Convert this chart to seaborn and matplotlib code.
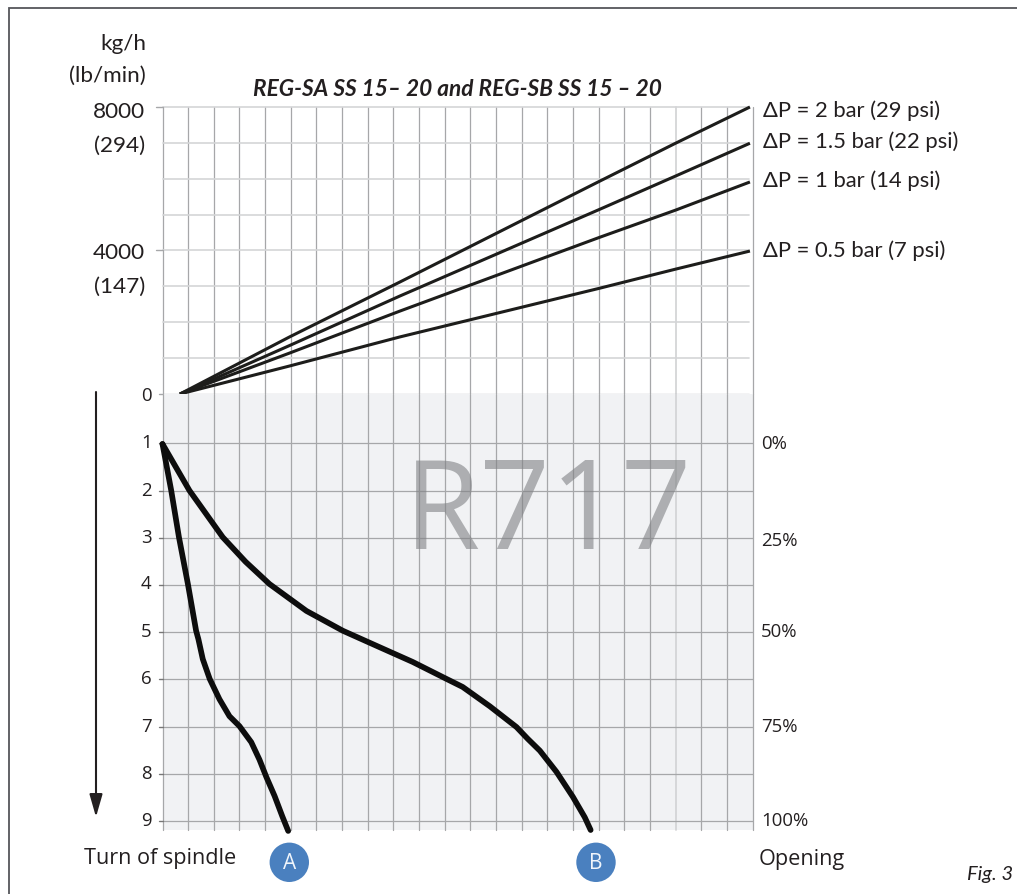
import numpy as np
import pandas as pd
import matplotlib
matplotlib.use("Agg")
import matplotlib.pyplot as plt
import seaborn as sns
from matplotlib.patches import Circle

sns.set_theme(style="white")
plt.rcParams['font.family'] = ['Open Sans', 'DejaVu Sans']

W, H = 1017, 895
X0, X1 = 162.5, 752.5
UP_T, UP_B = 108, 395
LO_B = 831

grid_max = 23
light_grid = 20
flow_x = [0.68, 4.95, 9.25, 17.05, 20.0, 22.9]
flow_2 = [0, 1590, 3120, 5935, 6990, 8000]
flow_15 = [0, 1350, 2730, 5150, 6075, 6990]
flow_1 = [0, 1140, 2310, 4370, 5125, 5910]
flow_05 = [0, 780, 1590, 2950, 3480, 3985]
flow_labels = ["\u0394P = 2 bar (29 psi)", "\u0394P = 1.5 bar (22 psi)", "\u0394P = 1 bar (14 psi)", "\u0394P = 0.5 bar (7 psi)"]
flow_label_base = [117, 148, 187, 257]

curve_a_x = [0, 0.34, 0.64, 0.99, 1.31, 1.40, 1.57, 1.84, 2.22, 2.61, 3.00, 3.46, 3.78, 4.05, 4.37, 4.67, 4.90]
curve_a_y = [1.015, 2.00, 2.985, 3.98, 4.97, 5.15, 5.57, 5.99, 6.42, 6.78, 6.99, 7.33, 7.70, 8.07, 8.47, 8.90, 9.21]
curve_b_x = [0, 1.05, 2.35, 3.24, 4.17, 5.61, 7.03, 8.47, 9.75, 11.07, 11.70, 12.76, 13.80, 14.24, 14.71, 15.36, 16.00, 16.46, 16.69]
curve_b_y = [1.015, 2.00, 2.99, 3.51, 3.98, 4.55, 4.97, 5.32, 5.63, 5.99, 6.16, 6.57, 7.01, 7.26, 7.51, 7.96, 8.49, 8.92, 9.19]

upper_ticks = [0, 1000, 2000, 3000, 4000, 5000, 6000, 7000, 8000]
turns = [1, 2, 3, 4, 5, 6, 7, 8, 9]
turn_labels = ['0', '1', '2', '3', '4', '5', '6', '7', '8', '9']
turn_base = [401, 448, 496, 543, 589, 637, 684, 732, 779, 826]
opening_labels = ["0%", "25%", "50%", "75%", "100%"]
opening_base = [449, 546, 637, 732, 826]

fig = plt.figure(figsize=(W / 100, H / 100), dpi=100)

def axes_px(x0, y0, x1, y1):
    return fig.add_axes([x0 / W, 1 - y1 / H, (x1 - x0) / W, (y1 - y0) / H])

ax_up = axes_px(X0, UP_T, X1, UP_B)
ax_lo = axes_px(X0, UP_B, X1, LO_B)
ax_up.set_xlim(0, grid_max); ax_up.set_ylim(0, 8000)
ax_lo.set_xlim(0, grid_max); ax_lo.set_ylim(9.19, -0.044)
ax_lo.set_facecolor('#f1f2f4')

GRID = '#a6a7a9'
LIGHT = '#d4d5d7'
for ax in (ax_up, ax_lo):
    for s in ax.spines.values():
        s.set_visible(False)
    ax.set_xticks([]); ax.set_yticks([])
    for g in range(0, grid_max + 1):
        is_light = g == light_grid
        ax.axvline(g, color=LIGHT if is_light else GRID, lw=1.3 if is_light else 0.9, zorder=1, clip_on=False)
for v in upper_ticks:
    ax_up.plot([0, 22.87], [v, v], color=GRID if v == 0 else LIGHT, lw=0.9 if v == 0 else 1.2, zorder=1, clip_on=False)
for t in turns:
    ax_lo.axhline(t, color=GRID, lw=0.9, zorder=1)

# left ticks
for v, start in ((0, -0.14), (4000, -0.27), (8000, -0.27)):
    ax_up.plot([start, 0], [v, v], color=GRID, lw=1.0, clip_on=False, zorder=1)
for t in turns:
    ax_lo.plot([-0.14, 0], [t, t], color='#777777', lw=1.0, clip_on=False, zorder=1)

# flow lines
flow = pd.DataFrame({'x': flow_x * 4,
                     'y': flow_2 + flow_15 + flow_1 + flow_05,
                     's': np.repeat(flow_labels, len(flow_x))})
sns.lineplot(data=flow, x='x', y='y', units='s', estimator=None, color='#1d1d1b', lw=2.2, ax=ax_up,
             zorder=4, clip_on=False, legend=False, sort=False, solid_capstyle='butt')
ax_up.set_xlabel(''); ax_up.set_ylabel('')

# spindle curves
for cx, cy in ((curve_a_x, curve_a_y), (curve_b_x, curve_b_y)):
    sns.lineplot(x=cx, y=cy, color='#0d0d0d', lw=4.1, ax=ax_lo, zorder=4, clip_on=False, sort=False,
                 estimator=None, solid_capstyle='round', solid_joinstyle='round')
ax_lo.set_xlabel(''); ax_lo.set_ylabel('')

TC = '#231f20'
NARROW = ['Lato', 'DejaVu Sans']

def txt(px, py, s, size=15, ha='left', **kw):
    return fig.text(px / W, 1 - py / H, s, fontsize=size, ha=ha, va='baseline', color=kw.pop('color', TC), **kw)

# watermark
txt(548, 549, 'R717', size=89, ha='center', color='#808285', alpha=0.6, zorder=6)

# upper-left labels
for s, x, y in (('kg/h', 146, 50), ('(lb/min)', 146, 82), ('8000', 145, 118),
                ('(294)', 145, 152), ('4000', 145, 259), ('(147)', 145, 293)):
    txt(x, y, s, size=16.2, ha='right', family=NARROW)
txt(457.5, 96, 'REG-SA SS 15\u2013 20 and REG-SB SS 15 \u2013 20', size=16.3, ha='center',
    fontweight='bold', fontstyle='italic', family=NARROW)

for s, y in zip(flow_labels, flow_label_base):
    txt(763, y, s, size=15.8, family=NARROW)

# lower labels
for s, y in zip(turn_labels, turn_base):
    txt(151.7, y, s, size=13.4, ha='right')
for s, y in zip(opening_labels, opening_base):
    txt(761, y, s, size=13.4)
txt(84, 864, 'Turn of spindle', size=15.6)
txt(759, 865, 'Opening', size=15.6)
txt(967, 880, 'Fig. 3', size=14.5, fontstyle='italic', family=NARROW)

# overlay in pixel units for badges, frame and arrow
ov = fig.add_axes([0, 0, 1, 1], zorder=10)
ov.set_xlim(0, W); ov.set_ylim(H, 0); ov.axis('off'); ov.patch.set_alpha(0)
for cx, s in ((289.3, 'A'), (596, 'B')):
    ov.add_patch(Circle((cx, 863.3), 19.7, color='#4a80bf', lw=0))
    ov.text(cx, 864, s, color='#f0f5fb', fontsize=15, ha='center', va='center')
ov.plot([8.5, 8.5, W], [H, 9, 9], color='#55565a', lw=1.3, solid_joinstyle='miter')
ov.annotate('', xy=(96, 818), xytext=(96, 393),
            arrowprops=dict(arrowstyle='-|>,head_width=0.33,head_length=1.15', color=TC, lw=1.5, shrinkA=0, shrinkB=0))

fig.savefig('out.png', dpi=100, facecolor='white')
